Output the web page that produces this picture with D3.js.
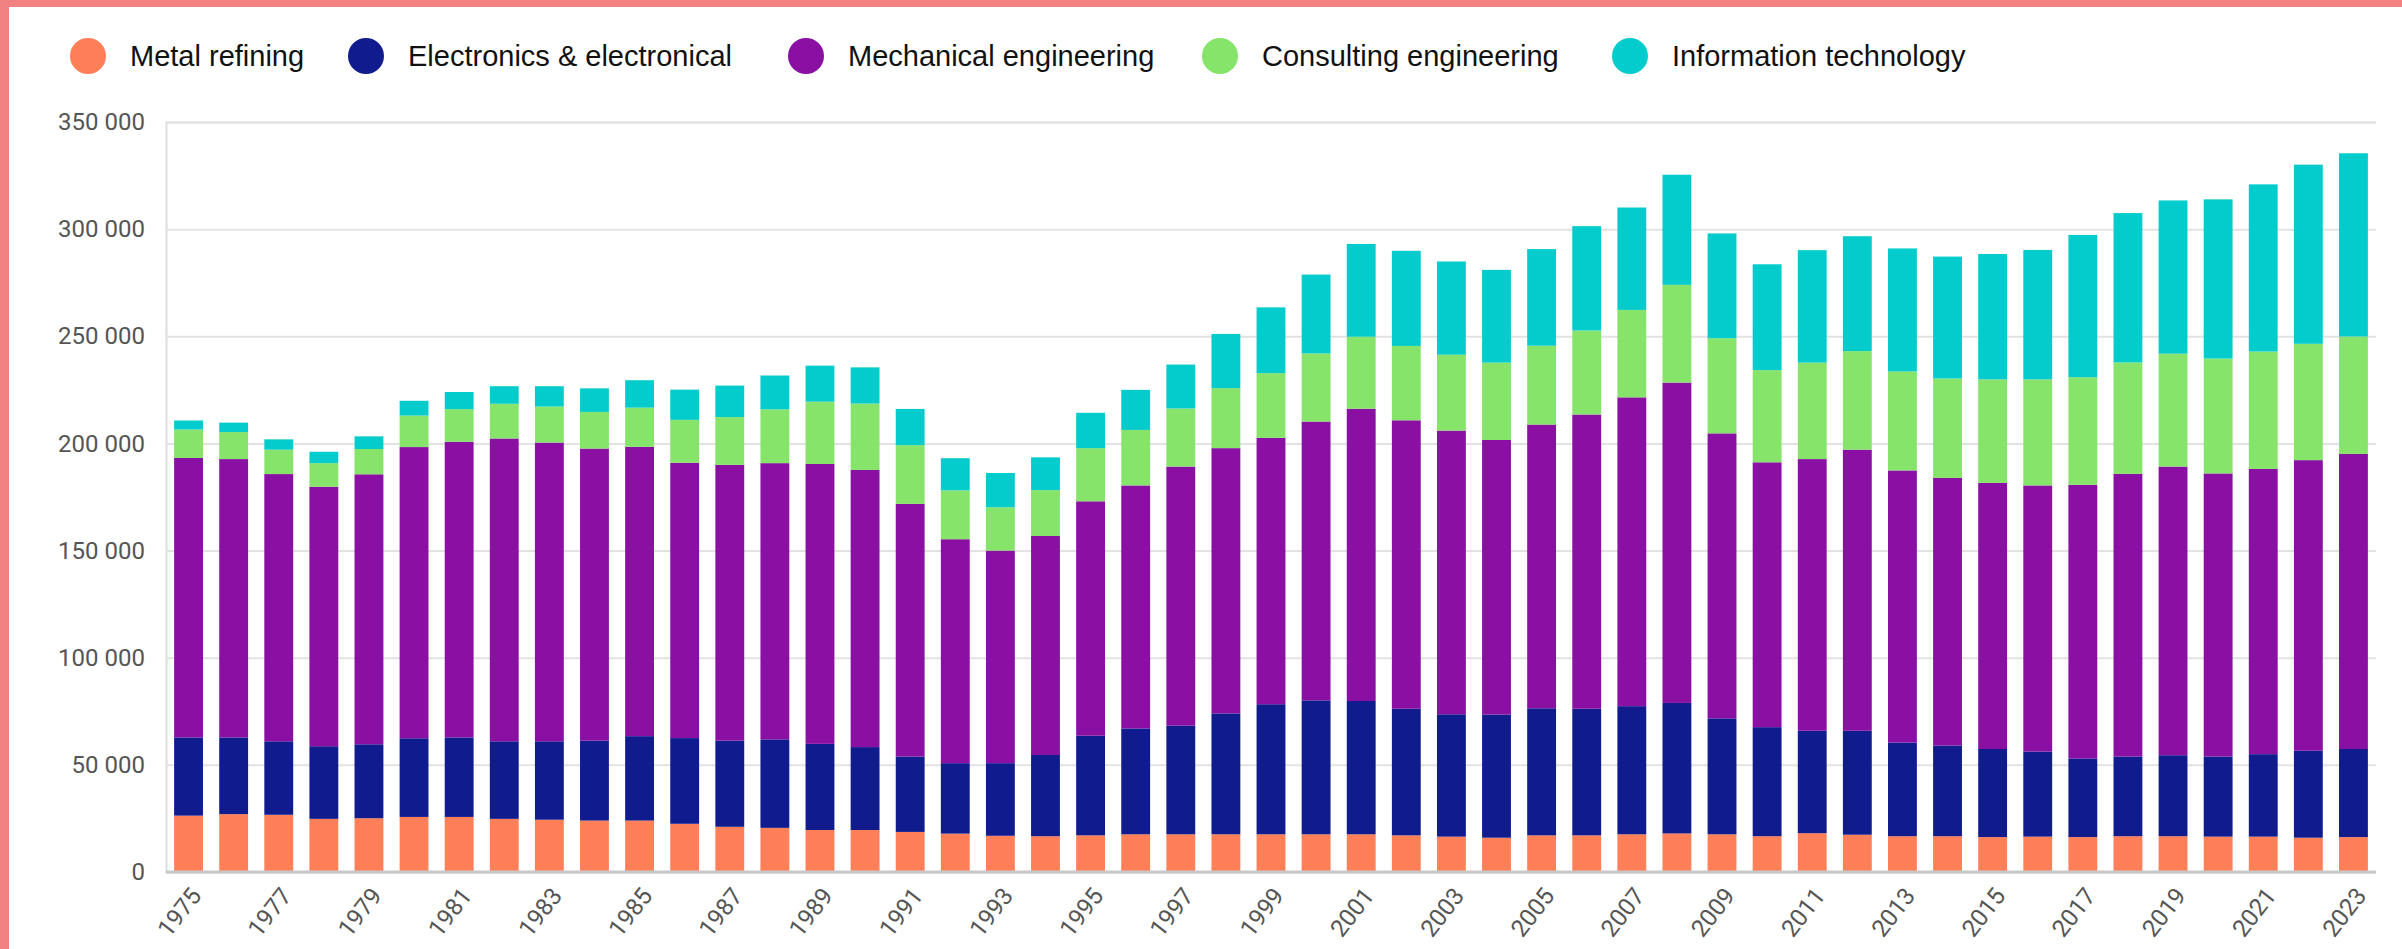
<!DOCTYPE html>
<meta charset="utf-8">
<style>

body {
  margin: 0;
  background: #fff;
}

.tick text {
  font-family: Roboto, sans-serif;
  font-size: 24px;
  fill: #555;
}

.legend text {
  font-family: "Liberation Sans", Arial, sans-serif;
  font-size: 29px;
  fill: #111;
}

</style>
<body>
<script src="https://d3js.org/d3.v7.min.js"></script>
<script>

var years = ["1975", "1976", "1977", "1978", "1979", "1980", "1981", "1982", "1983", "1984",
  "1985", "1986", "1987", "1988", "1989", "1990", "1991", "1992", "1993", "1994",
  "1995", "1996", "1997", "1998", "1999", "2000", "2001", "2002", "2003", "2004",
  "2005", "2006", "2007", "2008", "2009", "2010", "2011", "2012", "2013", "2014",
  "2015", "2016", "2017", "2018", "2019", "2020", "2021", "2022", "2023"];

var metal = [26300, 27000, 26700, 24800, 25100, 25700, 25700, 24800, 24400, 24000,
  24000, 22500, 21100, 20600, 19600, 19600, 18700, 17900, 16900, 16700,
  17100, 17600, 17600, 17600, 17600, 17600, 17600, 17100, 16500, 16000,
  17100, 17100, 17600, 18000, 17600, 16700, 18100, 17400, 16700, 16700,
  16300, 16500, 16300, 16700, 16700, 16500, 16500, 16000, 16300];

var electronics = [36500, 35800, 34300, 33900, 34500, 36700, 37100, 36200, 36600, 37300,
  39400, 40000, 40200, 41300, 40200, 38700, 35200, 32900, 33900, 37900,
  46500, 49400, 50700, 56400, 60700, 62500, 62200, 59100, 57100, 57500,
  59300, 59100, 59800, 60900, 54100, 50900, 47800, 48500, 43700, 42300,
  41100, 39700, 36700, 37200, 37800, 37400, 38500, 40600, 41100];

var mechanical = [130400, 129900, 124700, 121100, 126000, 135900, 138000, 141300, 139400, 136300,
  135000, 128500, 128700, 128900, 130600, 129300, 117900, 104500, 99200, 102200,
  109400, 113400, 120900, 123800, 124300, 130100, 136400, 134600, 132400, 128100,
  132400, 137300, 144100, 149500, 133000, 123600, 126800, 131200, 127000, 124900,
  124200, 124200, 127700, 131900, 134700, 132100, 133100, 135600, 137700];

var consulting = [13300, 12600, 11400, 11000, 11800, 14700, 15200, 16200, 16800, 17100,
  18300, 20000, 22300, 25100, 29100, 31000, 27400, 22800, 20200, 21400,
  24800, 25900, 27100, 28000, 30200, 31800, 33600, 34700, 35400, 36100,
  36800, 39200, 40800, 45600, 44400, 43000, 45000, 46000, 46200, 46400,
  48300, 49500, 50200, 52000, 52700, 53600, 54800, 54300, 54800];

var infotech = [4200, 4400, 4800, 5300, 5900, 6900, 8000, 8200, 9500, 11000,
  12800, 14100, 14700, 15800, 16800, 16900, 16900, 15000, 16000, 15300,
  16500, 18700, 20500, 25300, 30700, 36800, 43300, 44400, 43500, 43300,
  45100, 48700, 47800, 51400, 48900, 49400, 52500, 53600, 57400, 56900,
  58500, 60400, 66400, 69700, 71500, 74300, 78000, 83600, 85500];

var seriesNames = ["Metal refining", "Electronics & electronical", "Mechanical engineering",
  "Consulting engineering", "Information technology"];

var colors = ["#ff7f59", "#101b8e", "#8a0fa3", "#86e46a", "#05cccc"];

var yTicks = [0, 50000, 100000, 150000, 200000, 250000, 300000, 350000];

var width = 2402,
    height = 949;

var keys = ["metal", "electronics", "mechanical", "consulting", "infotech"];

// legend item positions (circle centres)
var legendX = [88, 366, 806, 1220, 1630];

var table = years.map(function(y, i) {
  return {
    year: y,
    metal: metal[i],
    electronics: electronics[i],
    mechanical: mechanical[i],
    consulting: consulting[i],
    infotech: infotech[i]
  };
});

var stacked = d3.stack().keys(keys)(table);

var svg = d3.select("body").append("svg")
    .attr("width", width)
    .attr("height", height);

// pink frame, top and left only
svg.append("rect").attr("x", 0).attr("y", 0).attr("width", width).attr("height", 7).attr("fill", "#f28181");
svg.append("rect").attr("x", 0).attr("y", 0).attr("width", 9).attr("height", height).attr("fill", "#f28181");

var x = d3.scaleBand()
    .domain(years)
    .range([166, 2376])
    .paddingInner(0.36)
    .paddingOuter(0.18);

var y = d3.scaleLinear()
    .domain([0, 350000])
    .range([872, 122]);

var fmt = d3.formatLocale({decimal: ".", thousands: " ", grouping: [3], currency: ["", ""]}).format(",");

var yAxis = svg.append("g")
    .attr("transform", "translate(166,0)")
    .call(d3.axisLeft(y).tickValues(yTicks).tickFormat(fmt).tickSize(-2210).tickPadding(21));

yAxis.select(".domain").attr("stroke", "#ddd").attr("stroke-width", 2);
yAxis.selectAll(".tick line").attr("stroke", "#e2e2e2").attr("stroke-width", 2);

svg.append("g")
  .selectAll("g")
  .data(stacked)
  .join("g")
    .attr("fill", function(d, i) { return colors[i]; })
  .selectAll("rect")
  .data(function(d) { return d; })
  .join("rect")
    .attr("x", function(d) { return x(d.data.year); })
    .attr("y", function(d) { return y(d[1]); })
    .attr("width", x.bandwidth())
    .attr("height", function(d) { return y(d[0]) - y(d[1]); });

// baseline
svg.append("line")
    .attr("x1", 166).attr("x2", 2376)
    .attr("y1", y(0)).attr("y2", y(0))
    .attr("stroke", "#c8c8c8")
    .attr("stroke-width", 3);

var xAxis = svg.append("g")
    .attr("transform", "translate(0," + y(0) + ")")
    .call(d3.axisBottom(x).tickValues(years.filter(function(d, i) { return i % 2 === 0; })).tickSize(0));

xAxis.select(".domain").remove();
xAxis.selectAll(".tick text")
    .attr("text-anchor", "end")
    .attr("dy", "0.35em")
    .attr("transform", "translate(5,17) rotate(-52)");

// legend
var legend = svg.append("g").attr("class", "legend");
seriesNames.forEach(function(name, i) {
  legend.append("circle")
      .attr("cx", legendX[i])
      .attr("cy", 56)
      .attr("r", 18)
      .attr("fill", colors[i]);
  legend.append("text")
      .attr("x", legendX[i] + 42)
      .attr("y", 56)
      .attr("dy", "0.35em")
      .text(name);
});

</script>
